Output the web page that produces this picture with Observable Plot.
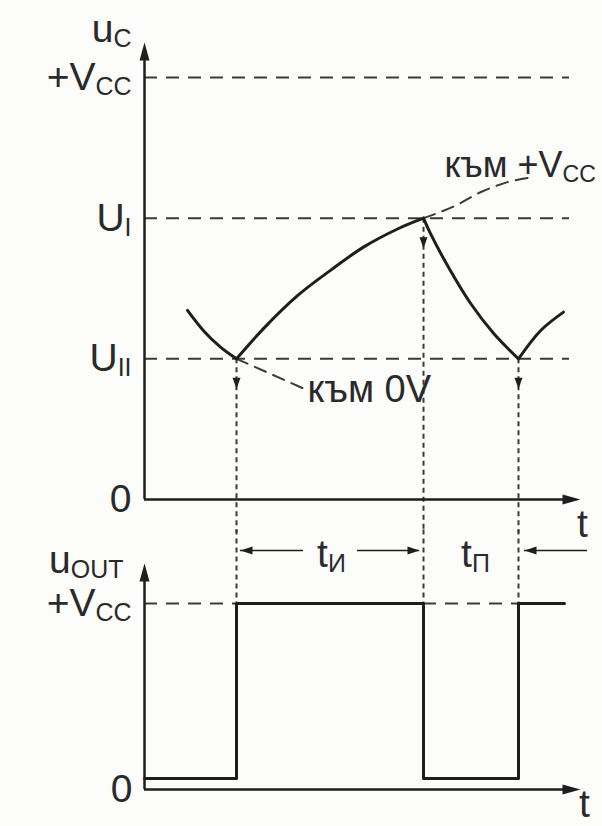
<!DOCTYPE html>
<html>
<head>
<meta charset="utf-8">
<script src="https://cdn.jsdelivr.net/npm/d3@7"></script>
<script src="https://cdn.jsdelivr.net/npm/@observablehq/plot@0.6"></script>
<style>
  html, body { margin: 0; padding: 0; background: #fcfcfb; overflow: hidden; }
  #chart svg { display: block; overflow: visible; }
</style>
</head>
<body>
<div id="chart"></div>
<script>
// Comparator threshold levels, as fractions of the supply voltage V_CC
const levelNames = ["0", "U_II", "U_I", "+V_CC"];
const levelValues = [0, 1 / 3, 2 / 3, 1];

// Switching instants (ms): u_C reaches U_II, then U_I, then U_II again
const switchTimes = [0.92, 2.79, 3.74];
const switchValues = [1 / 3, 2 / 3, 1 / 3];

// Capacitor voltage u_C (fraction of V_CC), one array pair per phase
const leadTime = [0.43, 0.59, 0.76, 0.92];
const leadValue = [0.448, 0.400, 0.361, 1 / 3];
const chargeTime = [0.92, 1.19, 1.53, 1.86, 2.19, 2.53, 2.79];
const chargeValue = [1 / 3, 0.405, 0.483, 0.543, 0.598, 0.641, 2 / 3];
const dischargeTime = [2.79, 2.86, 3.06, 3.26, 3.49, 3.74];
const dischargeValue = [2 / 3, 0.630, 0.542, 0.465, 0.394, 1 / 3];
const tailTime = [3.74, 3.96, 4.19];
const tailValue = [1 / 3, 0.400, 0.444];

// Where the charging / discharging would continue if not interrupted
const towardVccTime = [2.79, 3.09, 3.36, 3.63, 3.86];
const towardVccValue = [2 / 3, 0.694, 0.728, 0.752, 0.763];
const towardZeroTime = [0.92, 1.60];
const towardZeroValue = [1 / 3, 0.262];

// Output voltage u_OUT (fraction of V_CC)
const outTime = [0, 0.92, 0.92, 2.79, 2.79, 3.74, 3.74, 4.20];
const outValue = [0, 0, 1, 1, 0, 0, 1, 1];

// Text labels
const ucLabel = "u_C";
const outLabel = "u_OUT";
const toVccLabel = "към +V_CC";
const toZeroLabel = "към 0V";
const pulseLabel = "t_И";
const pauseLabel = "t_П";
const timeLabel = "t";

const zip = (ts, vs) => ts.map((t, i) => ({t, v: vs[i]}));
const levels = levelNames.map((name, i) => ({name, v: levelValues[i]}));
const switches = zip(switchTimes, switchValues);
const vccSpans = [
  {from: 0, to: switchTimes[0]},
  {from: switchTimes[1], to: switchTimes[2]}
];

const ink = "#1e1e1e";
const dash = "#3a3a3a";
const font = "Liberation Sans, Arial, sans-serif";
const xScale = {domain: [0, 4.36], range: [144, 580], axis: null};

// Filled, elongated arrowhead drawn pointing up before rotation
const head = {
  draw(context, l, r) {
    context.moveTo(-r, 0);
    context.lineTo(0, -l);
    context.lineTo(r, 0);
    context.closePath();
  }
};
const arrowHead = (data, o) =>
  Plot.vector(data, {anchor: "end", shape: head, fill: ink, stroke: "none", ...o});

const label = (text, o) =>
  Plot.text([text], {text: (d) => d, fill: "#2a2a2a", fontSize: 39, ...o});

// Turn "X_sub" into X with a lowered, smaller subscript
function subscripts(svg) {
  d3.select(svg).selectAll("text").each(function () {
    const s = this.textContent;
    const i = s.indexOf("_");
    if (i < 0) return;
    const el = d3.select(this).text(null);
    el.append("tspan").text(s.slice(0, i));
    el.append("tspan").attr("font-size", "0.64em").attr("dy", "0.2em").text(s.slice(i + 1));
  });
  return svg;
}

const curve = (ts, vs) =>
  Plot.line(zip(ts, vs), {x: "t", y: "v", curve: "catmull-rom", stroke: ink, strokeWidth: 3});

// Capacitor voltage panel
const ucPanel = Plot.plot({
  width: 602,
  height: 530,
  style: {background: "transparent", overflow: "visible", fontFamily: font},
  x: xScale,
  y: {domain: [0, 1], range: [499, 77], axis: null},
  marks: [
    Plot.ruleY(levelValues.slice(1), {x1: 0, x2: 4.25, stroke: dash, strokeWidth: 2, strokeDasharray: "13,9"}),
    Plot.ruleX(switches, {x: "t", y1: "v", y2: -0.08, stroke: dash, strokeWidth: 2, strokeDasharray: "5,4"}),
    arrowHead(switches, {x: "t", y: "v", dy: 30, rotate: 180, length: 11, r: 4}),
    Plot.line(zip(towardVccTime, towardVccValue), {x: "t", y: "v", curve: "catmull-rom", stroke: dash, strokeWidth: 2, strokeDasharray: "12,8"}),
    Plot.line(zip(towardZeroTime, towardZeroValue), {x: "t", y: "v", stroke: dash, strokeWidth: 2, strokeDasharray: "12,8"}),
    curve(leadTime, leadValue),
    curve(chargeTime, chargeValue),
    curve(dischargeTime, dischargeValue),
    curve(tailTime, tailValue),
    Plot.ruleX([0], {y1: 0, y2: 1.05, stroke: ink, strokeWidth: 2.5}),
    Plot.ruleY([0], {x1: 0, x2: 4.28, stroke: ink, strokeWidth: 2.5}),
    arrowHead([0], {x: 0, y: 1.083, rotate: 0, length: 18, r: 5}),
    arrowHead([0], {x: 4.36, y: 0, rotate: 90, length: 18, r: 5}),
    label(ucLabel, {x: 0, y: 1.114, textAnchor: "end", dx: -13}),
    Plot.text(levels, {x: 0, y: "v", text: "name", textAnchor: "end", dx: -13, fill: "#2a2a2a", fontSize: 39}),
    label(timeLabel, {x: 4.36, y: 0, dx: 2, dy: 25}),
    label(toVccLabel, {x: 3.0, y: 0.791, textAnchor: "start", fontSize: 36}),
    label(toZeroLabel, {x: 1.63, y: 0.261, textAnchor: "start", fontSize: 38})
  ]
});

// Output voltage panel
const outPanel = Plot.plot({
  width: 602,
  height: 296,
  style: {background: "transparent", overflow: "visible", fontFamily: font},
  x: xScale,
  y: {domain: [0, 1], range: [248, 73], axis: null},
  marks: [
    Plot.ruleY(vccSpans, {x1: "from", x2: "to", y: 1, stroke: dash, strokeWidth: 2, strokeDasharray: "13,9"}),
    Plot.ruleX(switches, {x: "t", y1: 1.42, y2: 1, stroke: dash, strokeWidth: 2, strokeDasharray: "5,4"}),
    Plot.ruleX([0], {y1: -0.063, y2: 1.18, stroke: ink, strokeWidth: 2.5}),
    Plot.ruleY([-0.063], {x1: 0, x2: 4.28, stroke: ink, strokeWidth: 2.5}),
    arrowHead([0], {x: 0, y: 1.229, rotate: 0, length: 18, r: 5}),
    arrowHead([0], {x: 4.36, y: -0.063, rotate: 90, length: 18, r: 5}),
    Plot.line(zip(outTime, outValue), {x: "t", y: "v", stroke: ink, strokeWidth: 3}),
    // pulse and pause duration markers
    Plot.ruleY([1.303], {x1: switchTimes[0] + 0.04, x2: 1.59, stroke: ink, strokeWidth: 1.5}),
    Plot.ruleY([1.303], {x1: 2.13, x2: switchTimes[1] - 0.04, stroke: ink, strokeWidth: 1.5}),
    Plot.ruleY([1.303], {x1: switchTimes[2] + 0.06, x2: 4.43, stroke: ink, strokeWidth: 1.5}),
    arrowHead([0], {x: switchTimes[0] + 0.04, y: 1.303, rotate: 270, length: 12, r: 4}),
    arrowHead([0], {x: switchTimes[1] - 0.04, y: 1.303, rotate: 90, length: 12, r: 4}),
    arrowHead([0], {x: switchTimes[2] + 0.06, y: 1.303, rotate: 270, length: 12, r: 4}),
    label(pulseLabel, {x: 1.87, y: 1.28}),
    label(pauseLabel, {x: 3.31, y: 1.28}),
    label(outLabel, {x: 0, y: 1.245, textAnchor: "end", dx: -21}),
    label("+V_CC", {x: 0, y: 1, textAnchor: "end", dx: -13}),
    label("0", {x: 0, y: -0.063, textAnchor: "end", dx: -12}),
    label(timeLabel, {x: 4.36, y: -0.149, dx: 4})
  ]
});

document.getElementById("chart").append(subscripts(ucPanel), subscripts(outPanel));
</script>
</body>
</html>
